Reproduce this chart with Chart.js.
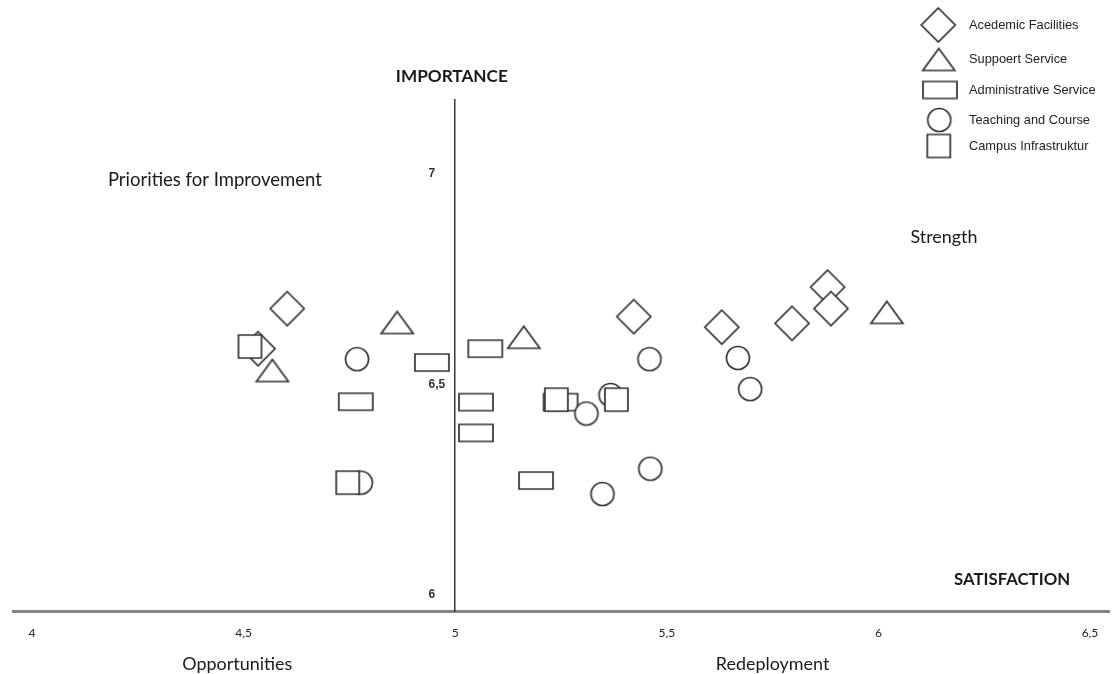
<!DOCTYPE html>
<html><head><meta charset="utf-8">
<script src="https://cdn.jsdelivr.net/npm/chart.js@4.4.0/dist/chart.umd.min.js"></script>
<style>html,body{margin:0;padding:0;background:#fff}#wrap{width:1115px;height:674px}</style>
</head><body><div id="wrap"><canvas id="c" width="1115" height="674"></canvas></div>
<script>
// ---- data ----
const categories = ['Acedemic Facilities', 'Suppoert Service', 'Administrative Service', 'Teaching and Course', 'Campus Infrastruktur'];
const academicX = [4.603, 4.534, 5.422, 5.630, 5.796, 5.880, 5.888];
const academicY = [6.680, 6.585, 6.661, 6.636, 6.645, 6.731, 6.680];
const supportX = [4.568, 4.863, 5.162, 6.020];
const supportY = [6.533, 6.647, 6.612, 6.671];
const adminX = [4.945, 4.765, 5.071, 5.049, 5.049, 5.249, 5.191];
const adminY = [6.552, 6.459, 6.585, 6.458, 6.385, 6.458, 6.272];
const teachingX = [4.768, 4.777, 5.459, 5.668, 5.697, 5.310, 5.367, 5.461, 5.348];
const teachingY = [6.560, 6.267, 6.560, 6.563, 6.489, 6.431, 6.475, 6.300, 6.240];
const campusX = [4.515, 4.746, 5.239, 5.381];
const campusY = [6.590, 6.267, 6.464, 6.464];
const xTickValues = [4, 4.5, 5, 5.5, 6, 6.5];
const yTickValues = [6, 6.5, 7];
const axisTitles = ['IMPORTANCE', 'SATISFACTION'];
const quadrantTitles = ['Priorities for Improvement', 'Strength', 'Opportunities', 'Redeployment'];

// ---- marker shapes ----
const STROKE = '#333';
function shapeCanvas(kind) {
  const c = document.createElement('canvas');
  const dims = {diamond:[38,38], triangle:[36,26], wide:[38,21], circle:[28,28], square:[27,27]}[kind];
  c.width = dims[0]; c.height = dims[1];
  const g = c.getContext('2d');
  g.lineWidth = 1.7; g.strokeStyle = STROKE; g.fillStyle = '#fff';
  g.beginPath();
  if (kind === 'diamond') { g.moveTo(19,2); g.lineTo(36,19); g.lineTo(19,36); g.lineTo(2,19); g.closePath(); }
  else if (kind === 'triangle') { g.moveTo(18,2); g.lineTo(34,24); g.lineTo(2,24); g.closePath(); }
  else if (kind === 'wide') { g.rect(2,2,34,17); }
  else if (kind === 'circle') { g.arc(14,14,11.5,0,Math.PI*2); }
  else { g.rect(2,2,23,23); }
  g.fill(); g.stroke();
  return c;
}
const shapes = ['diamond','triangle','wide','circle','square'].map(shapeCanvas);

function pts(xs, ys) { return xs.map((x, i) => ({x: x, y: ys[i]})); }
const seriesX = [academicX, supportX, adminX, teachingX, campusX];
const seriesY = [academicY, supportY, adminY, teachingY, campusY];
const datasets = categories.map((name, i) => ({
  label: name,
  data: pts(seriesX[i], seriesY[i]),
  pointStyle: shapes[i],
  pointRadius: 5,
  pointHoverRadius: 5,
  order: 5 - i
}));

const comma = v => String(v).replace('.', ',');

const labelsPlugin = {
  id: 'labels',
  afterDraw(chart) {
    const ctx = chart.ctx, xs = chart.scales.x, ys = chart.scales.y;
    const FAM = 'Lato, "Open Sans", sans-serif';
    function fitSize(text, weight, targetW) {
      ctx.font = weight + ' 20px ' + FAM;
      return 20 * targetW / ctx.measureText(text).width;
    }
    function put(text, weight, size, px, py) {
      ctx.save();
      ctx.font = weight + ' ' + size.toFixed(2) + 'px ' + FAM;
      ctx.fillStyle = '#1a1a1a'; ctx.textAlign = 'center'; ctx.textBaseline = 'middle';
      ctx.fillText(text, px, py);
      ctx.restore();
    }
    const X = v => xs.getPixelForValue(v), Y = v => ys.getPixelForValue(v);
    put(axisTitles[0], 'bold', fitSize(axisTitles[0], 'bold', 112), X(4.992), Y(7.230));
    put(axisTitles[1], 'bold', fitSize(axisTitles[1], 'bold', 116), X(6.316), Y(6.036));
    const qs = fitSize(quadrantTitles[2], 'normal', 110);
    put(quadrantTitles[0], 'normal', fitSize(quadrantTitles[0], 'normal', 214), X(4.432), Y(6.985));
    put(quadrantTitles[1], 'normal', qs, X(6.155), Y(6.849));
    put(quadrantTitles[2], 'normal', qs, X(4.485), Y(5.835));
    put(quadrantTitles[3], 'normal', qs, X(5.75), Y(5.835));

    // legend (top right)
    const legendY = [25, 59.5, 90, 120, 146];
    const legendX = [938.3, 938.8, 940, 939.3, 938.8];
    ctx.save();
    ctx.font = '12.8px "Liberation Sans", Arial, sans-serif';
    ctx.fillStyle = '#222'; ctx.textAlign = 'left'; ctx.textBaseline = 'middle';
    categories.forEach((name, i) => {
      const s = shapes[i];
      ctx.drawImage(s, legendX[i] - s.width / 2, legendY[i] - s.height / 2);
      ctx.fillText(name, 969, legendY[i]);
    });
    ctx.restore();
  }
};

new Chart(document.getElementById('c'), {
  type: 'scatter',
  data: { datasets: datasets },
  options: {
    responsive: false,
    animation: false,
    devicePixelRatio: 1,
    layout: { padding: { left: 13, right: 5, top: 100, bottom: 20 } },
    plugins: { legend: { display: false }, tooltip: { enabled: false } },
    scales: {
      x: {
        type: 'linear', min: 3.955, max: 6.545,
        afterBuildTicks: s => { s.ticks = xTickValues.map(v => ({value: v})); },
        grid: { display: false, drawTicks: false },
        border: { display: true, color: '#858585', width: 3 },
        ticks: { callback: comma, padding: 14, color: '#222', font: { family: 'Lato, sans-serif', size: 12 }, maxRotation: 0, autoSkip: false }
      },
      y: {
        type: 'linear', min: 5.961, max: 7.175,
        position: { x: 5 },
        afterBuildTicks: s => { s.ticks = yTickValues.map(v => ({value: v})); },
        grid: { display: false, drawTicks: false },
        border: { display: true, color: '#3a3a3a', width: 1.5 },
        ticks: {
          callback: v => { const s = comma(v); return s + ' '.repeat(s.length > 1 ? 3 : 6); },
          padding: 11, color: '#333',
          font: { family: '"Liberation Sans", Arial, sans-serif', size: 12, weight: 'bold' }
        }
      }
    }
  },
  plugins: [labelsPlugin]
});
</script>
</body></html>
